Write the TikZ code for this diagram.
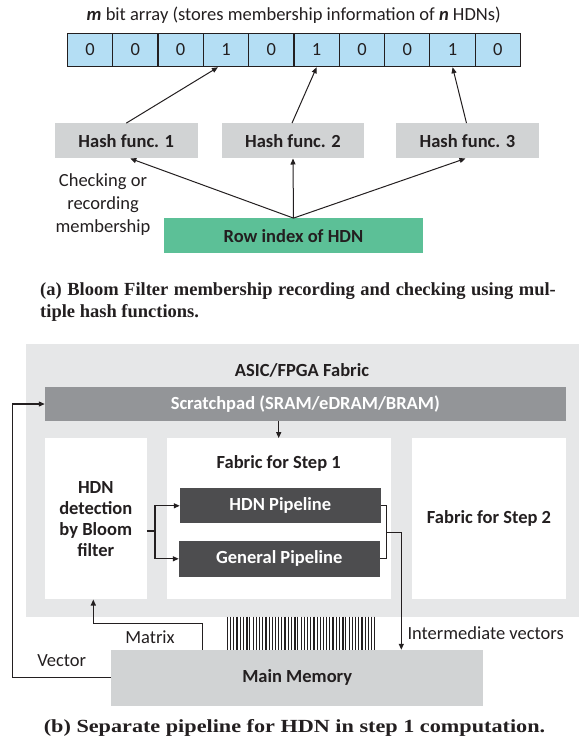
\documentclass[tikz,border=0pt]{standalone}
\usepackage{graphicx}
\usepackage{fontspec}
\setmainfont{Carlito}
\newfontfamily\capfont{Liberation Serif}
\usetikzlibrary{arrows.meta}

\definecolor{txt}{RGB}{35,31,32}
\definecolor{cellblue}{RGB}{180,222,244}
\definecolor{hashgray}{RGB}{209,211,212}
\definecolor{rowgreen}{RGB}{92,192,151}
\definecolor{fabgray}{RGB}{230,231,232}
\definecolor{padgray}{RGB}{147,149,152}
\definecolor{pipegray}{RGB}{77,77,79}
\definecolor{memgray}{RGB}{209,211,212}

\newcommand\lblsize{\fontsize{18.5}{22.5}\selectfont}

\begin{document}
\begin{tikzpicture}[x=1pt,y=-1pt,
  every node/.style={font=\lblsize, text=txt, inner sep=0pt},
  cell/.style={draw=txt, line width=1.1pt, fill=cellblue,
    minimum width=45.33pt, minimum height=33.4pt},
  hashbox/.style={fill=hashgray, minimum width=142.5pt, minimum height=35pt,
    font=\lblsize\bfseries},
  whitebox/.style={fill=white, minimum height=161pt, font=\lblsize\bfseries},
  pipe/.style={fill=pipegray, text=white, minimum width=200.7pt,
    minimum height=35pt, font=\lblsize\bfseries},
  ln/.style={draw=txt, line width=1.2pt},
  arr/.style={ln, -{Triangle[length=6pt,width=5pt]}},
  thinarr/.style={draw=txt, line width=1pt, -{Triangle[length=6pt,width=5pt]}},
  caption/.style={font=\capfont\bfseries\fontsize{18.5}{22}\selectfont},
  bar/.style={draw=txt}
]
\useasboundingbox (0,0) rectangle (579,740);

% ---------- (a) Bloom filter ----------
\node (title) at (293.7,15)
  {\textbf{\textit{m}} bit array (stores membership information of \textbf{\textit{n}} HDNs)};

\foreach \v [count=\k] in {0,0,0,1,0,1,0,0,1,0}
  \node[cell] (c\k) at ({67.3+45.33*(\k-0.5)},50) {\v};

\node[hashbox] (h1) at (126.3,140.8) {Hash func. 1};
\node[hashbox] (h2) at (293,140.8) {Hash func. 2};
\node[hashbox] (h3) at (467.5,140.8) {Hash func. 3};

\node[fill=rowgreen, minimum width=259pt, minimum height=35pt,
  font=\lblsize\bfseries] (row) at (293.5,235.8) {Row index of HDN};

\node[align=center, font=\fontsize{18.5}{23}\selectfont] (check) at (103,205)
  {Checking or\\recording\\membership};

\draw[thinarr] (h1.north) -- ([xshift=-8pt]c4.south);
\draw[thinarr] ([xshift=-1pt]h2.north) -- (c6.south);
\draw[thinarr] ([xshift=-1pt]h3.north) -- (c9.south);

\draw[thinarr] (row.north) -- ([xshift=4pt]h1.south);
\draw[thinarr] (row.north) -- (h2.south);
\draw[thinarr] (row.north) -- ([xshift=-2pt]h3.south);

\node[caption, anchor=mid west] (capa1) at (40,293.3)
  {\makebox[515.7pt][s]{(a) Bloom Filter membership recording and checking using mul-}};
\node[caption, anchor=mid west] (capa2) at (40,315)
  {tiple hash functions.};

% ---------- (b) accelerator ----------
\node[fill=fabgray, minimum width=553pt, minimum height=273pt] (fabric) at (302.5,480.5) {};
\node[font=\lblsize\bfseries] (fabtitle) at (302,370) {ASIC/FPGA Fabric};

\node[fill=padgray, text=white, minimum width=520.7pt, minimum height=33.4pt,
  font=\lblsize\bfseries] (scratch) at (305.3,404) {Scratchpad (SRAM/eDRAM/BRAM)};

\node[whitebox, minimum width=101.7pt, align=center,
  font=\fontsize{18.5}{21}\selectfont\bfseries] (det) at (95.8,518.8)
  {HDN\\detection\\by Bloom\\filter};
\node[whitebox, minimum width=224pt] (s1) at (278.7,518.8) {};
\node[font=\lblsize\bfseries] (s1title) at (278.7,463.3) {Fabric for Step 1};
\node[whitebox, minimum width=153.4pt] (s2) at (489,518.8) {Fabric for Step 2};

\node[pipe] (hp) at (280.3,505.8) {HDN Pipeline};
\node[pipe, minimum height=35.7pt] (gp) at (279.3,558.8) {General Pipeline};

\node[fill=memgray, minimum width=372.3pt, minimum height=55.7pt,
  font=\lblsize\bfseries] (mem) at (297.2,677.8) {Main Memory};

% vector stream between fabric and memory
\foreach \i in {0,...,46}{
  \pgfmathsetmacro\bx{227.5+\i*3.2}
  \pgfmathsetmacro\bw{mod(\i,3)==0 ? 1.6 : 1.0}
  \draw[bar, line width=\bw pt] (\bx,616.7) -- (\bx,650);
}

% scratchpad feeds step 1
\draw[arr] (s1.north |- scratch.south) -- (s1.north);

% bloom filter splits rows into the two pipelines
\coordinate (fk) at (155,531);
\draw[ln] (det.east |- fk) -- (fk);
\draw[arr] (fk) |- (hp.west);
\draw[arr] (fk) |- (gp.west);

% pipelines merge and write back
\coordinate (mg) at (386.7,532.3);
\coordinate (iv) at (401.3,532.3);
\draw[ln] (hp.east) -| (mg) |- (gp.east);
\draw[arr] (mg) -- (iv) -- (iv |- mem.north);
\node[anchor=west] (ivlabel) at (407.3,632.7) {Intermediate vectors};

% matrix from memory to bloom filter
\coordinate (mx) at (202.3,623.3);
\coordinate (mxd) at (93.3,623.3);
\draw[arr] (mx |- mem.north) -- (mx) -- (mxd) -- (mxd |- det.south);
\node (mxlabel) at (150,637.3) {Matrix};

% vector from memory to scratchpad
\coordinate (vx) at (12.3,540);
\draw[arr] (mem.west) -| (vx) |- (scratch.west);
\node (vlabel) at (61.7,661) {Vector};

\node[caption] (capb) at (294.5,728.3)
  {\scalebox{1.2}[1]{(b) Separate pipeline for HDN in step 1 computation.}};
\end{tikzpicture}
\end{document}
